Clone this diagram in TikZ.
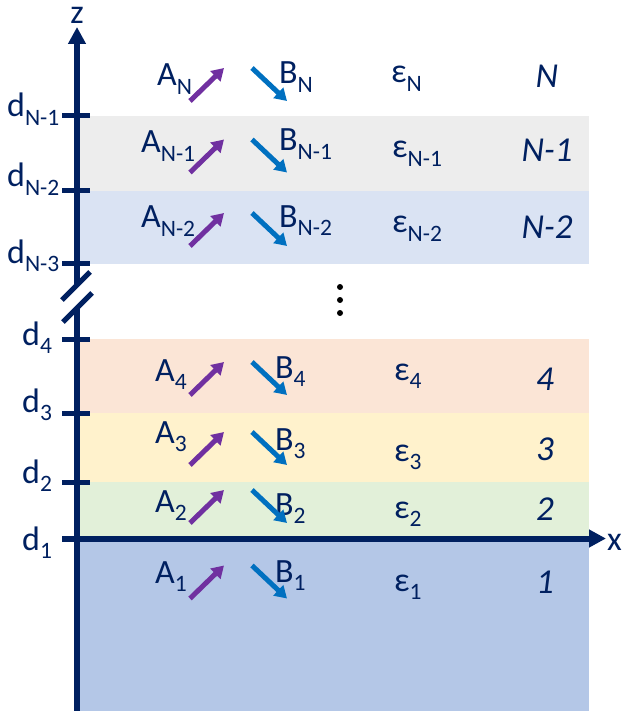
\documentclass[tikz,border=0pt]{standalone}
\usepackage{fontspec}
\setmainfont{Carlito}
\usetikzlibrary{arrows.meta}
\definecolor{navy}{HTML}{002060}
\definecolor{purp}{HTML}{7030A0}
\definecolor{bluea}{HTML}{0070C0}
\definecolor{bandgrey}{HTML}{EDEDED}
\definecolor{bandlblue}{HTML}{DAE3F3}
\definecolor{bandsalmon}{HTML}{FBE5D6}
\definecolor{bandyellow}{HTML}{FFF2CC}
\definecolor{bandgreen}{HTML}{E2F0D9}
\definecolor{bandblue}{HTML}{B4C7E7}
\newcommand\lsub[1]{\raisebox{-8.5pt}{\fontsize{23.5pt}{25pt}\selectfont #1}}
\begin{document}
\begin{tikzpicture}[x=1pt,y=-1pt,
  lbl/.style={anchor=base west, inner sep=0pt, text=navy, font=\fontsize{34pt}{40pt}\selectfont},
  num/.style={anchor=base, inner sep=0pt, text=navy, font=\fontsize{35pt}{40pt}\selectfont\itshape},
  axisline/.style={draw=navy, line width=6pt},
  tickline/.style={draw=navy, line width=5pt},
  axistip/.style={-{Triangle[length=17pt,width=17pt]}},
  avec/.style={draw=purp, line width=5pt, -{Triangle[length=12pt,width=14pt]}},
  bvec/.style={draw=bluea, line width=5pt, -{Triangle[length=12pt,width=14pt]}},
]
\useasboundingbox (0,0) rectangle (625,711);
% bands
\fill[bandgrey] (77,116) rectangle (589,191);
\fill[bandlblue] (77,191) rectangle (589,264);
\fill[bandsalmon] (77,339) rectangle (589,413);
\fill[bandyellow] (77,413) rectangle (589,482);
\fill[bandgreen] (77,482) rectangle (589,538.5);
\fill[bandblue] (77,538.5) rectangle (589,711);
% axes
\coordinate (ztop) at (77,27);
\coordinate (zbreakup) at (77,286);
\coordinate (zbreaklo) at (77,308);
\coordinate (zbot) at (77,711);
\coordinate (xleft) at (62,538.5);
\coordinate (xright) at (606,538.5);
\draw[axisline, axistip] (zbreakup) -- (ztop);
\draw[axisline] (zbreaklo) -- (zbot);
\draw[axisline, axistip] (xleft) -- (xright);
% break slashes
\coordinate (s1a) at (62,300); \coordinate (s1b) at (90,272);
\coordinate (s2a) at (63,322); \coordinate (s2b) at (92,293);
\draw[tickline] (s1a) -- (s1b);
\draw[tickline] (s2a) -- (s2b);
% ticks
\foreach \y/\n in {116/t1,191/t2,263/t3,339/t4,413/t5,482/t6}{
  \coordinate (\n a) at (62,\y); \coordinate (\n b) at (90,\y);
  \draw[tickline] (\n a) -- (\n b);
}
% axis labels
\node[inner sep=0pt, text=navy, font=\fontsize{34pt}{40pt}\selectfont, anchor=base] (zl) at (77,24) {z};
\node[inner sep=0pt, text=navy, font=\fontsize{34pt}{40pt}\selectfont, anchor=base west] (xl) at (607,550) {x};
\node[lbl] (dN1) at (7,117) {d\lsub{N-1}};
\node[lbl] (dN2) at (7,187) {d\lsub{N-2}};
\node[lbl] (dN3) at (7,263) {d\lsub{N-3}};
\node[lbl] (d4) at (22,345) {d\lsub{4}};
\node[lbl] (d3) at (22,412) {d\lsub{3}};
\node[lbl] (d2) at (22,483) {d\lsub{2}};
\node[lbl] (d1) at (22,550) {d\lsub{1}};
% rows: A, B, eps, number
\node[lbl] (AN) at (157,86) {A\lsub{N}};
\node[lbl] (BN) at (279,84) {B\lsub{N}};
\node[lbl] (eN) at (391,83) {ε\lsub{N}};
\node[num] (nN) at (547,88) {N};
\node[lbl] (AN1) at (141,153) {A\lsub{N-1}};
\node[lbl] (BN1) at (279,151) {B\lsub{N-1}};
\node[lbl] (eN1) at (392,158) {ε\lsub{N-1}};
\node[num] (nN1) at (547,162) {N-1};
\node[lbl] (AN2) at (141,228) {A\lsub{N-2}};
\node[lbl] (BN2) at (279,227) {B\lsub{N-2}};
\node[lbl] (eN2) at (392,233) {ε\lsub{N-2}};
\node[num] (nN2) at (547,238) {N-2};
\node[lbl] (A4) at (155,381) {A\lsub{4}};
\node[lbl] (B4) at (275,378) {B\lsub{4}};
\node[lbl] (e4) at (394,380) {ε\lsub{4}};
\node[num] (n4) at (545,390) {4};
\node[lbl] (A3) at (155,443) {A\lsub{3}};
\node[lbl] (B3) at (275,450) {B\lsub{3}};
\node[lbl] (e3) at (394,461) {ε\lsub{3}};
\node[num] (n3) at (545,460) {3};
\node[lbl] (A2) at (155,512) {A\lsub{2}};
\node[lbl] (B2) at (275,515) {B\lsub{2}};
\node[lbl] (e2) at (394,518) {ε\lsub{2}};
\node[num] (n2) at (545,520) {2};
\node[lbl] (A1) at (155,583) {A\lsub{1}};
\node[lbl] (B1) at (275,582) {B\lsub{1}};
\node[lbl] (e1) at (394,591) {ε\lsub{1}};
\node[num] (n1) at (545,593) {1};
% field arrows
\foreach \m/\n in {84.5/rN,156/rN1,229.5/rN2,378.5/r4,448.5/r3,506.5/r2,582/r1}{
  \coordinate (\n as) at (190,\m+16.5); \coordinate (\n ae) at (224,\m-16.5);
  \coordinate (\n bs) at (252,\m-16.5); \coordinate (\n be) at (287,\m+16.5);
  \draw[avec] (\n as) -- (\n ae);
  \draw[bvec] (\n bs) -- (\n be);
}
% dots
\fill[black] (340,287) circle (3);
\fill[black] (340,300) circle (3);
\fill[black] (340,313) circle (3);
\end{tikzpicture}
\end{document}
